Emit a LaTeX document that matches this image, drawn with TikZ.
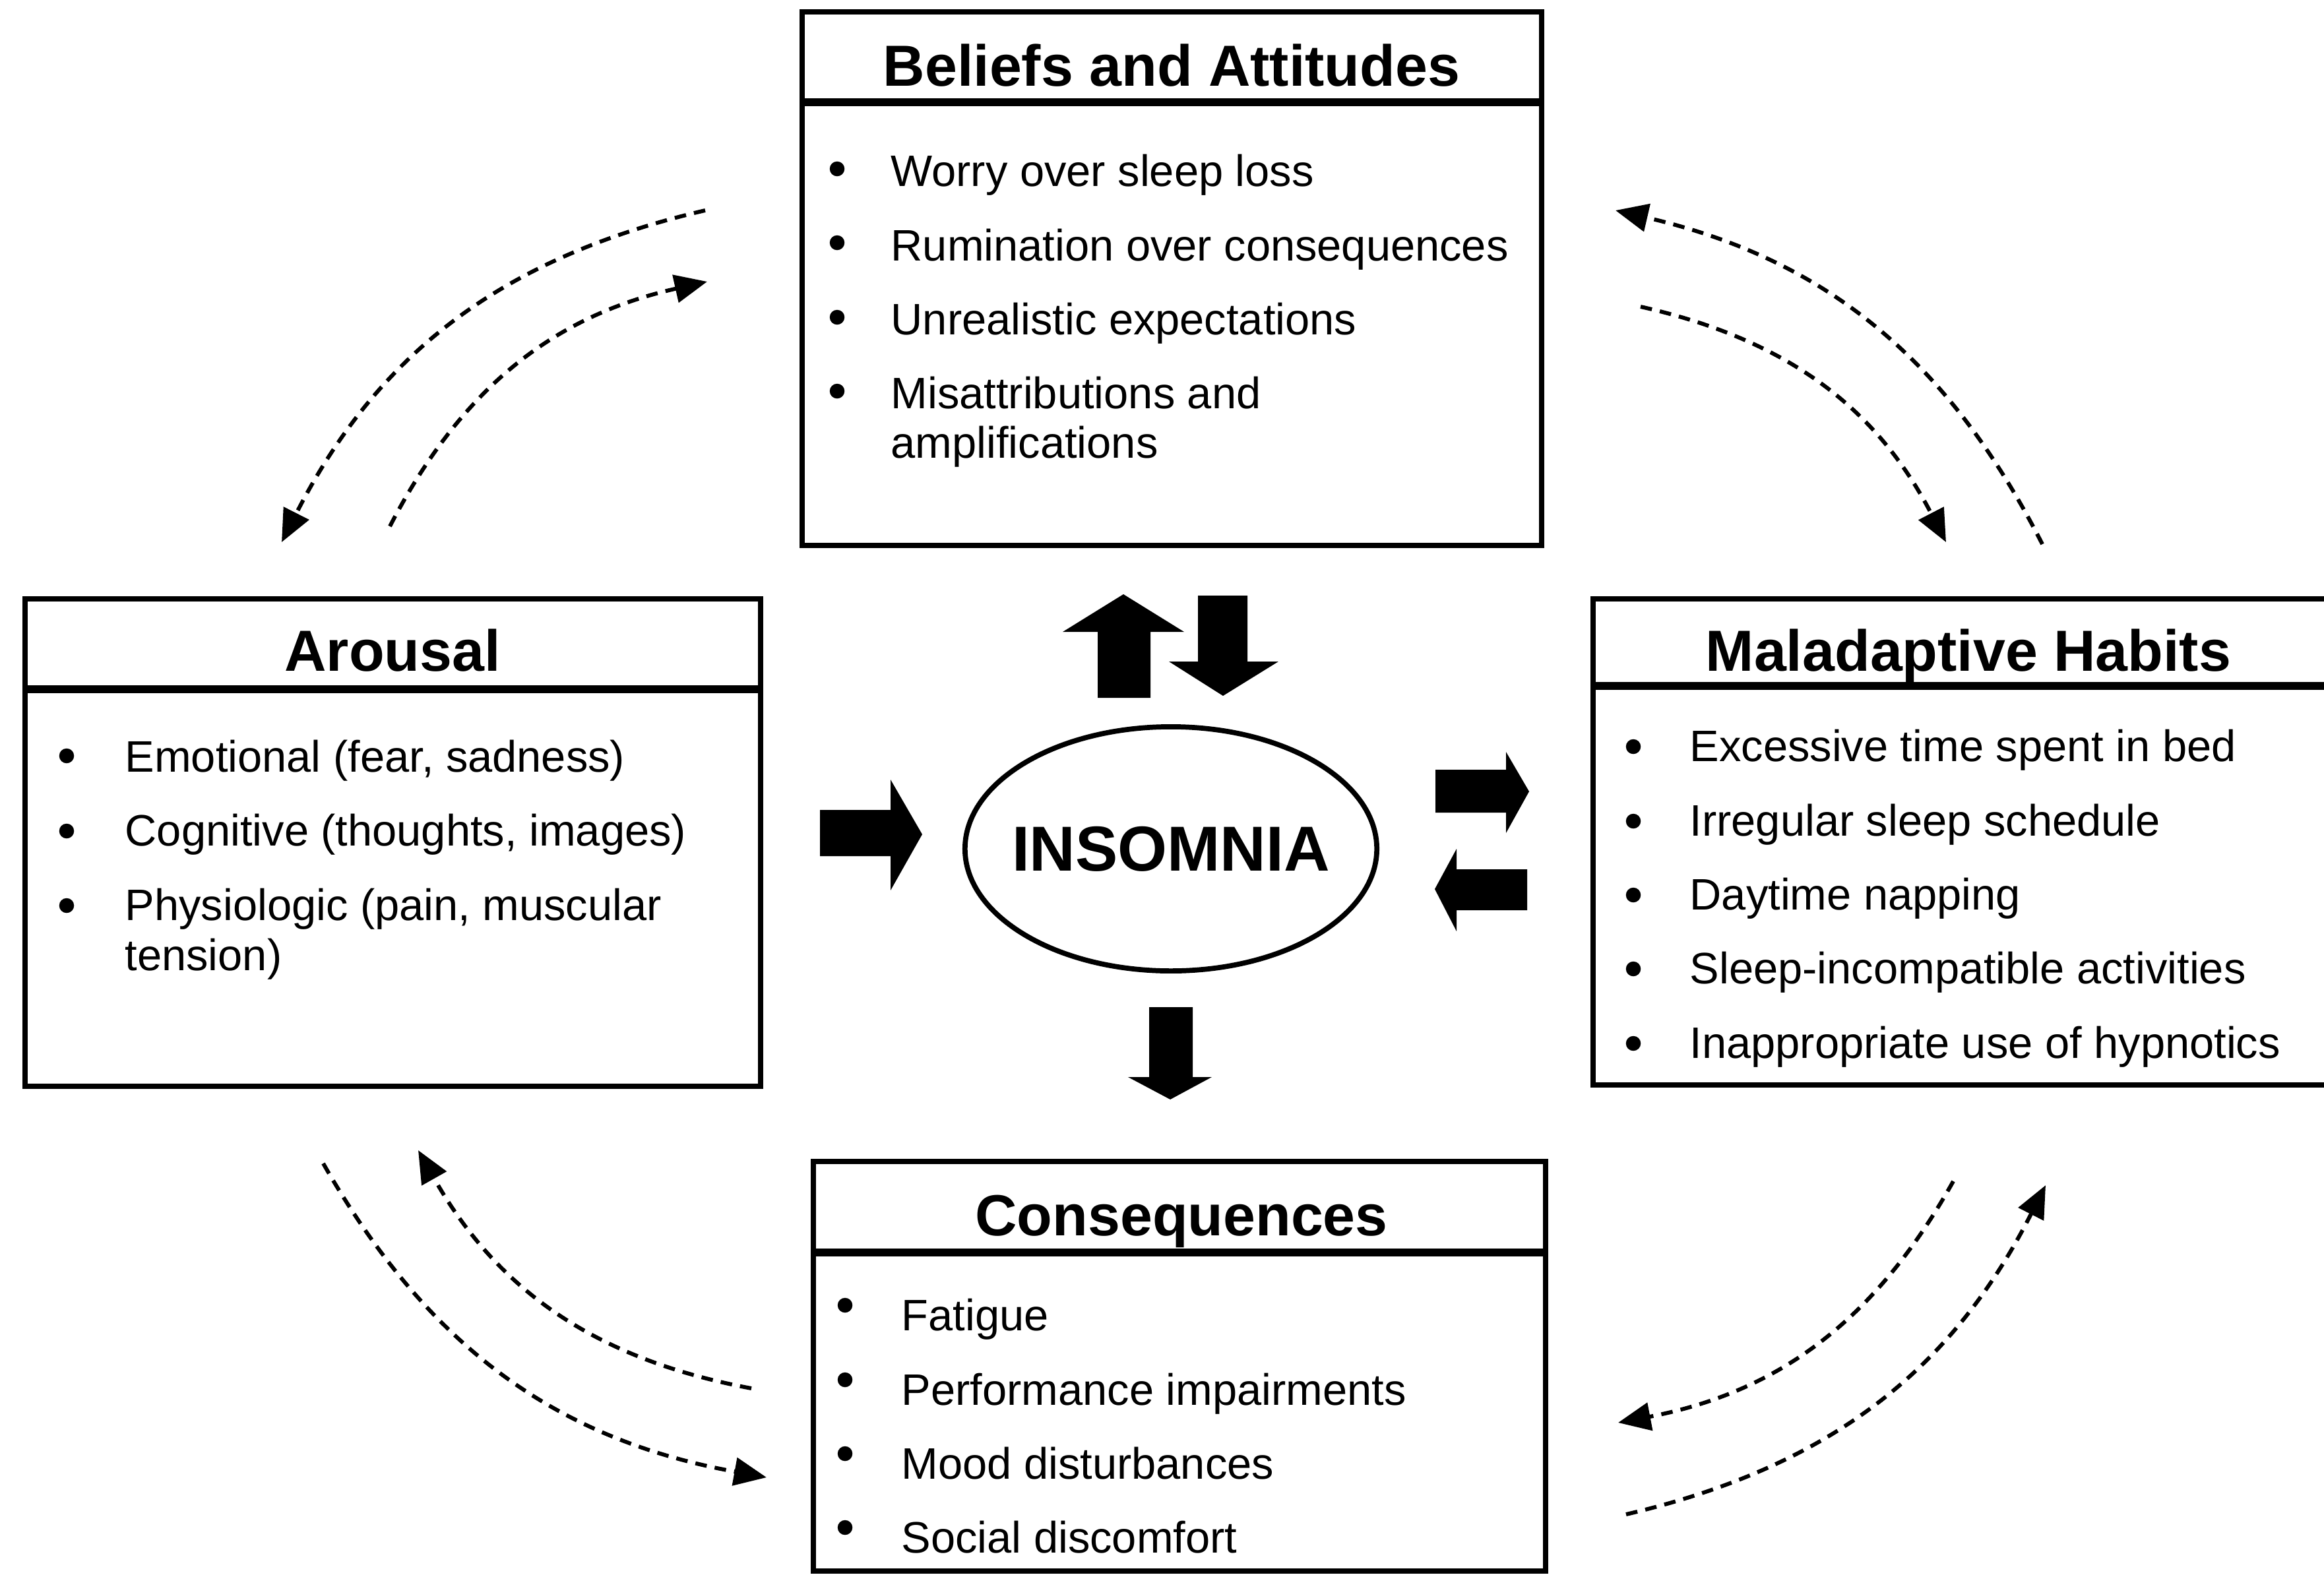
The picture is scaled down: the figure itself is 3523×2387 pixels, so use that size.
\documentclass[tikz,border=0pt]{standalone}
\usepackage{fontspec}
\setmainfont{Liberation Sans}
\usetikzlibrary{arrows.meta}
\begin{document}
\begin{tikzpicture}[x=0.01cm,y=-0.01cm,
  box/.style={draw,line width=2.2pt},
  sepline/.style={line width=3.5pt},
  ttl/.style={font=\fontsize{25}{30}\selectfont\bfseries,anchor=base,inner sep=0pt},
  itm/.style={font=\fontsize{19}{21.5}\selectfont,anchor=base west,inner sep=0pt},
  bdot/.style={fill=black},
  darc/.style={line width=1.7pt,dash pattern=on 5pt off 3.5pt,-{Triangle[length=14pt,width=12pt]}},
  blk/.style={fill=black}
]
\useasboundingbox (0,0) rectangle (3523,2387);

% ---------- Beliefs and Attitudes ----------
\draw[box] (1216,18) rectangle (2337,827);
\draw[sepline] (1216,155) -- (2337,155);
\node[ttl] (belT) at (1776,130) {Beliefs and Attitudes};
\node[itm] (b1) at (1350,282) {Worry over sleep loss};
\node[itm] (b2) at (1350,395) {Rumination over consequences};
\node[itm] (b3) at (1350,507) {Unrealistic expectations};
\node[itm] (b4) at (1350,619) {Misattributions and};
\node[itm] (b4b) at (1350,694) {amplifications};
\foreach \y in {256,368,481,593} \fill[bdot] (1269,\y) circle[radius=3.2pt];

% ---------- Arousal ----------
\draw[box] (38,908) rectangle (1153,1647);
\draw[sepline] (38,1045) -- (1153,1045);
\node[ttl] (aroT) at (595,1017) {Arousal};
\node[itm] (a1) at (189,1170) {Emotional (fear, sadness)};
\node[itm] (a2) at (189,1282) {Cognitive (thoughts, images)};
\node[itm] (a3) at (189,1395) {Physiologic (pain, muscular};
\node[itm] (a3b) at (189,1471) {tension)};
\foreach \y in {1146,1260,1373} \fill[bdot] (101,\y) circle[radius=3.2pt];

% ---------- Maladaptive Habits ----------
\draw[box] (2415,908) rectangle (3540,1645);
\draw[sepline] (2415,1040) -- (3540,1040);
\node[ttl] (malT) at (2984,1017) {Maladaptive Habits};
\node[itm] (m1) at (2561,1154) {Excessive time spent in bed};
\node[itm] (m2) at (2561,1267) {Irregular sleep schedule};
\node[itm] (m3) at (2561,1379) {Daytime napping};
\node[itm] (m4) at (2561,1491) {Sleep-incompatible activities};
\node[itm] (m5) at (2561,1604) {Inappropriate use of hypnotics};
\foreach \y in {1132,1245,1357,1469,1582} \fill[bdot] (2476,\y) circle[radius=3.2pt];

% ---------- Consequences ----------
\draw[box] (1233,1761) rectangle (2343,2382);
\draw[sepline] (1233,1899) -- (2343,1899);
\node[ttl] (conT) at (1791,1873) {Consequences};
\node[itm] (c1) at (1366,2017) {Fatigue};
\node[itm] (c2) at (1366,2130) {Performance impairments};
\node[itm] (c3) at (1366,2242) {Mood disturbances};
\node[itm] (c4) at (1366,2354) {Social discomfort};
\foreach \y in {1979,2092,2204,2316} \fill[bdot] (1281,\y) circle[radius=3.2pt];

% ---------- Insomnia ----------
\node[inner sep=0pt,font=\fontsize{27.4}{32}\selectfont\bfseries] (ins) at (1775,1287) {INSOMNIA};
\draw[line width=2.2pt] (ins.center) ellipse[x radius=3.12cm, y radius=1.85cm];

% ---------- block arrows ----------
% up (to beliefs)
\fill[blk] (1664,1058) -- (1664,958) -- (1611,958) -- (1703,901) -- (1795,958) -- (1744,958) -- (1744,1058) -- cycle;
% down (from beliefs)
\fill[blk] (1816,903) -- (1891,903) -- (1891,1003) -- (1938,1003) -- (1854,1055) -- (1772,1003) -- (1816,1003) -- cycle;
% arousal -> insomnia
\fill[blk] (1243,1228) -- (1350,1228) -- (1350,1182) -- (1398,1265) -- (1350,1350) -- (1350,1298) -- (1243,1298) -- cycle;
% insomnia -> habits
\fill[blk] (2176,1167) -- (2283,1167) -- (2283,1140) -- (2318,1200) -- (2283,1263) -- (2283,1232) -- (2176,1232) -- cycle;
% habits -> insomnia
\fill[blk] (2315,1318) -- (2208,1318) -- (2208,1287) -- (2175,1348) -- (2208,1412) -- (2208,1380) -- (2315,1380) -- cycle;
% insomnia -> consequences
\fill[blk] (1742,1527) -- (1808,1527) -- (1808,1633) -- (1837,1633) -- (1774,1667) -- (1710,1633) -- (1742,1633) -- cycle;

% ---------- dashed arcs ----------
\coordinate (tlo1) at (1069,319);  \coordinate (tlo2) at (427,822);
\coordinate (tli1) at (591,798);   \coordinate (tli2) at (1072,427);
\coordinate (tro1) at (3096,825);  \coordinate (tro2) at (2449,319);
\coordinate (tri1) at (2487,465);  \coordinate (tri2) at (2950,822);
\coordinate (blo1) at (490,1764);  \coordinate (blo2) at (1162,2240);
\coordinate (bli1) at (1139,2105); \coordinate (bli2) at (634,1744);
\coordinate (bri1) at (2961,1791); \coordinate (bri2) at (2453,2157);
\coordinate (bro1) at (2465,2296); \coordinate (bro2) at (3101,1797);

\draw[darc] (tlo1) to[bend right=25] (tlo2);
\draw[darc] (tli1) to[bend left=25] (tli2);
\draw[darc] (tro1) to[bend right=25] (tro2);
\draw[darc] (tri1) to[bend left=25] (tri2);
\draw[darc] (blo1) to[bend right=25] (blo2);
\draw[darc] (bli1) to[bend left=25] (bli2);
\draw[darc] (bri1) to[bend left=25] (bri2);
\draw[darc] (bro1) to[bend right=25] (bro2);
\end{tikzpicture}
\end{document}
